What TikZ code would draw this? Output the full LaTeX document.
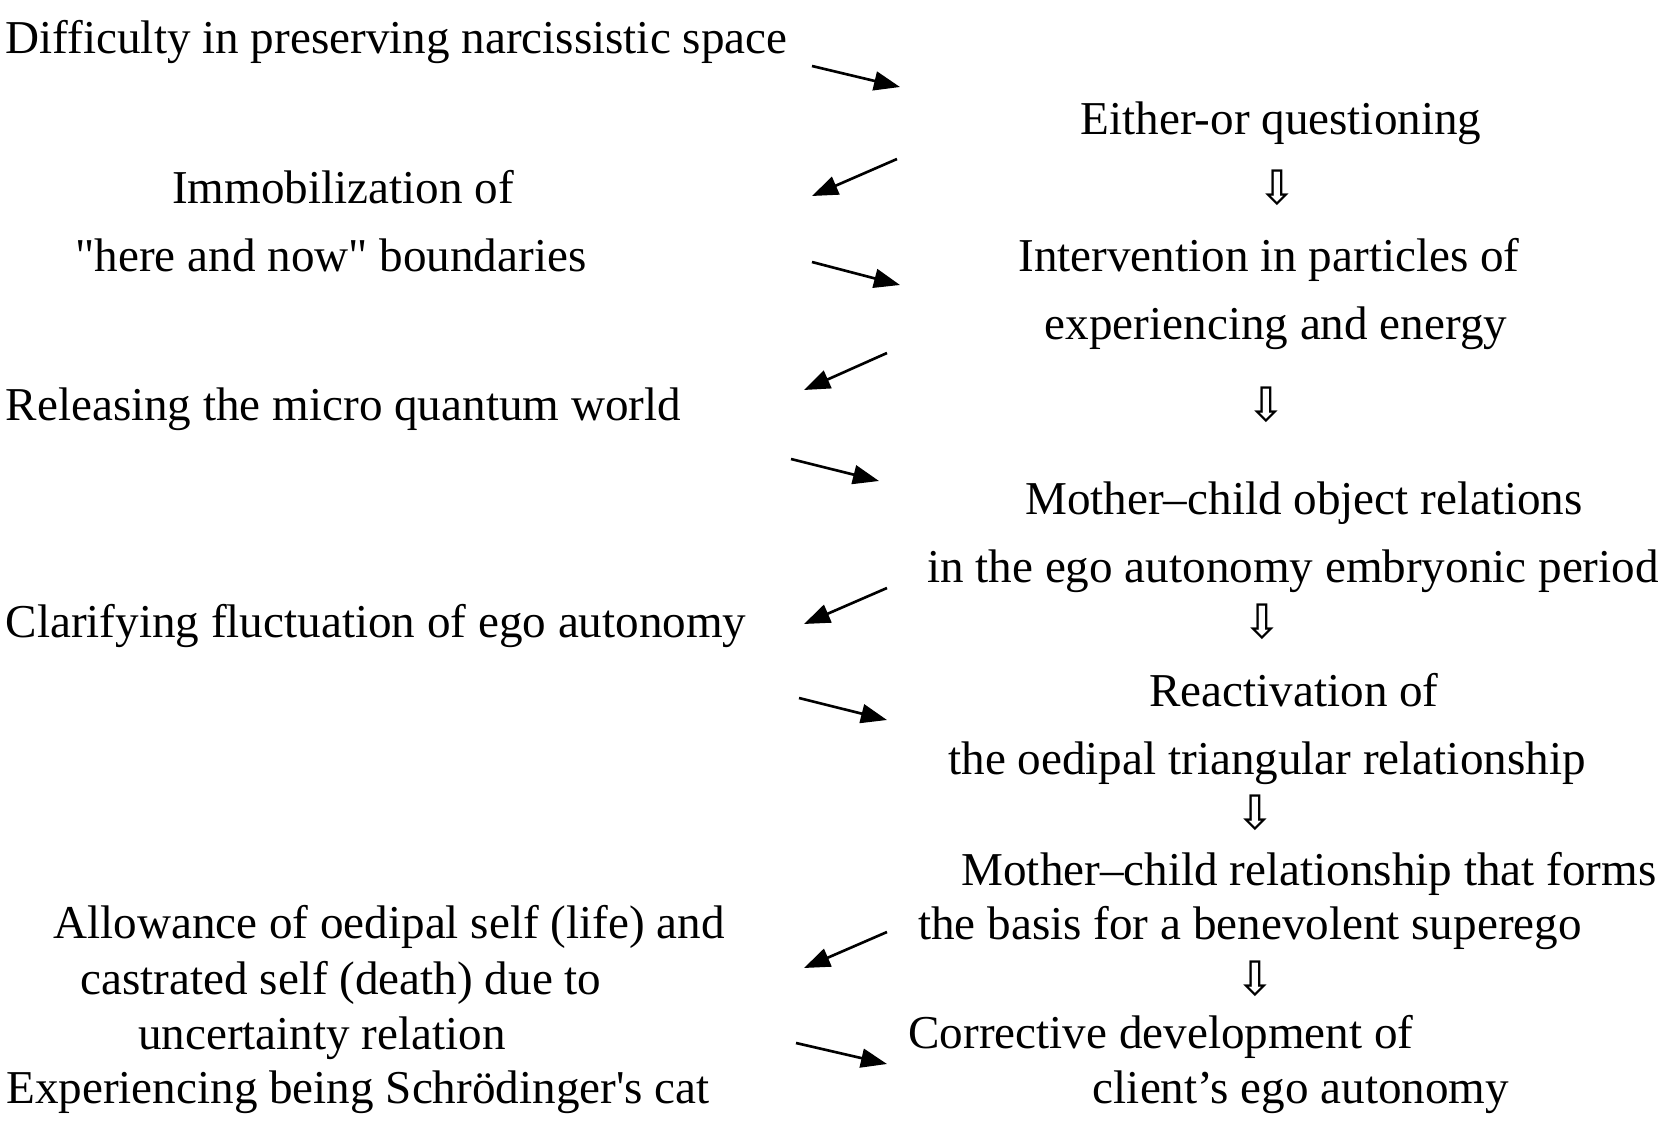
\documentclass[tikz,border=0pt]{standalone}
\usepackage{fontspec}
\setmainfont{Liberation Serif}
\newfontfamily\symfont{DejaVu Sans}
\usetikzlibrary{arrows.meta}

\begin{document}
\begin{tikzpicture}[x=0.01cm, y=-0.01cm, >={Triangle[length=0.26cm,width=0.19cm]},
    lbl/.style={inner sep=0pt, anchor=mid, yshift=-0.075cm, font=\fontsize{13.4}{16}\selectfont},
    lft/.style={lbl, anchor=mid west},
    down/.style={inner sep=0pt, font=\symfont\fontsize{13.5}{14}\selectfont},
    link/.style={->, line width=0.75pt}]
    \useasboundingbox (0,0) rectangle (1665,1124);
    % left column
    \node[lft] (narc) at (5,38) {Difficulty in preserving narcissistic space};
    \node[lbl] (immo1) at (343,188) {Immobilization of};
    \node[lbl] (immo2) at (331,256) {\textquotedbl here and now\textquotedbl{} boundaries};
    \node[lft] (rel) at (5,405) {Releasing the micro quantum world};
    \node[lft] (clar) at (5,622) {Clarifying fluctuation of ego autonomy};
    \node[lbl] (allow1) at (389,923) {Allowance of oedipal self (life) and};
    \node[lbl] (allow2) at (341,979) {castrated self (death) due to};
    \node[lbl] (allow3) at (322,1034) {uncertainty relation};
    \node[lbl] (allow4) at (358,1088) {Experiencing being Schrödinger\textquotesingle s cat};
    % right column
    \node[lbl] (either) at (1281,119) {Either-or questioning};
    \node[down] (d1) at (1277,188) {⇩};
    \node[lbl] (inter1) at (1269,256) {Intervention in particles of};
    \node[lbl] (inter2) at (1276,324) {experiencing and energy};
    \node[down] (d2) at (1266,405) {⇩};
    \node[lbl] (moth1) at (1304,499) {Mother–child object relations};
    \node[lbl] (moth2) at (1293,567) {in the ego autonomy embryonic period};
    \node[down] (d3) at (1262,622) {⇩};
    \node[lbl] (react1) at (1294,691) {Reactivation of};
    \node[lbl] (react2) at (1267,759) {the oedipal triangular relationship};
    \node[down] (d4) at (1255,813) {⇩};
    \node[lbl] (bene1) at (1309,870) {Mother–child relationship that forms};
    \node[lbl] (bene2) at (1250,924) {the basis for a benevolent superego};
    \node[down] (d5) at (1255,979) {⇩};
    \node[lbl] (corr1) at (1161,1033) {Corrective development of};
    \node[lbl] (corr2) at (1301,1088) {client’s ego autonomy};
    % slanted arrows between the columns
    \foreach \i/\sx/\sy/\ex/\ey in {1/812/66/900/87, 2/897/159/812/196,
        3/812/262/900/285, 4/887/353/804/390, 5/791/459/879/481,
        6/887/588/804/624, 7/799/698/887/720, 8/887/932/804/968,
        9/796/1043/887/1064}{
      \coordinate (s\i) at (\sx,\sy);
      \coordinate (e\i) at (\ex,\ey);
      \draw[link] (s\i) -- (e\i);
    }
\end{tikzpicture}
\end{document}
